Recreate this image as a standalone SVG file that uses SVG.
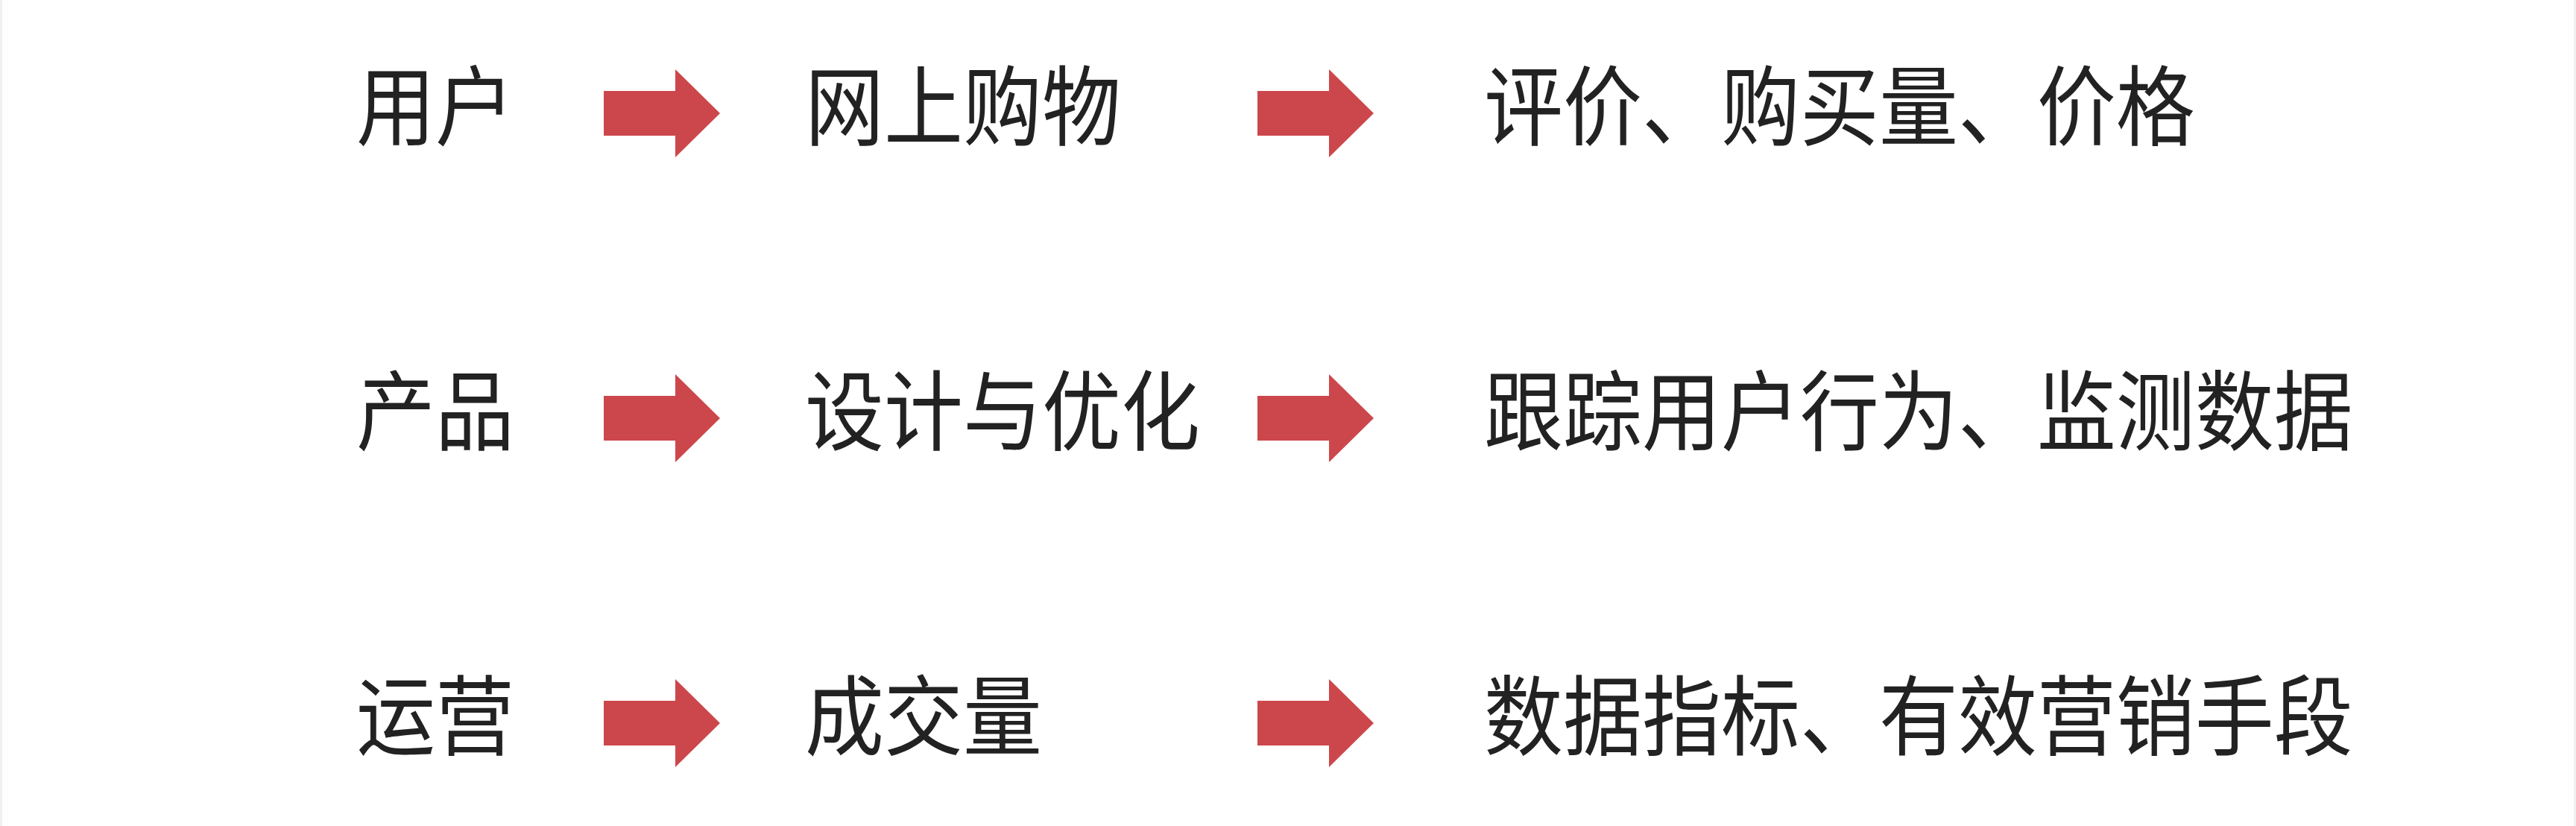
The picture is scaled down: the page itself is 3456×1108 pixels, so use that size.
<svg xmlns="http://www.w3.org/2000/svg" xmlns:xlink="http://www.w3.org/1999/xlink" width="3456" height="1108" viewBox="0 0 3456 1108">
  <style>
    .t { font-family: "Noto Sans CJK SC", "Noto Sans", "Liberation Sans", sans-serif; font-size: 106px; fill: #222222; }
    .arr { fill: #CC474B; }
    .edge { stroke: #f0f0f0; stroke-width: 3; }
  </style>
  <defs>
    <path id="blockArrow" d="M0,-30 L96,-30 L96,-59 L156,0 L96,59 L96,30 L0,30 Z"/>
  </defs>
  <rect x="0" y="0" width="3456" height="1108" fill="#ffffff"/>
  <line class="edge" x1="1.5" y1="0" x2="1.5" y2="1108"/>
  <line class="edge" x1="3454.5" y1="0" x2="3454.5" y2="1108"/>

  <g id="node-user" transform="translate(478,186) scale(1,1.1)"><text class="t" x="0" y="0">用户</text></g>
  <g id="node-shopping" transform="translate(1080,186) scale(1,1.1)"><text class="t" x="0" y="0">网上购物</text></g>
  <g id="node-review" transform="translate(1991,186) scale(1,1.1)"><text class="t" x="0" y="0">评价、购买量、价格</text></g>

  <g id="node-product" transform="translate(478,595) scale(1,1.1)"><text class="t" x="0" y="0">产品</text></g>
  <g id="node-design" transform="translate(1080,595) scale(1,1.1)"><text class="t" x="0" y="0">设计与优化</text></g>
  <g id="node-track" transform="translate(1991,595) scale(1,1.1)"><text class="t" x="0" y="0">跟踪用户行为、监测数据</text></g>

  <g id="node-ops" transform="translate(478,1004) scale(1,1.1)"><text class="t" x="0" y="0">运营</text></g>
  <g id="node-volume" transform="translate(1080,1004) scale(1,1.1)"><text class="t" x="0" y="0">成交量</text></g>
  <g id="node-metrics" transform="translate(1991,1004) scale(1,1.1)"><text class="t" x="0" y="0">数据指标、有效营销手段</text></g>

  <g id="connectors" class="arr">
    <use xlink:href="#blockArrow" href="#blockArrow" transform="translate(810,152)"/>
    <use xlink:href="#blockArrow" href="#blockArrow" transform="translate(1687,152)"/>
    <use xlink:href="#blockArrow" href="#blockArrow" transform="translate(810,561)"/>
    <use xlink:href="#blockArrow" href="#blockArrow" transform="translate(1687,561)"/>
    <use xlink:href="#blockArrow" href="#blockArrow" transform="translate(810,970)"/>
    <use xlink:href="#blockArrow" href="#blockArrow" transform="translate(1687,970)"/>
  </g>
</svg>
